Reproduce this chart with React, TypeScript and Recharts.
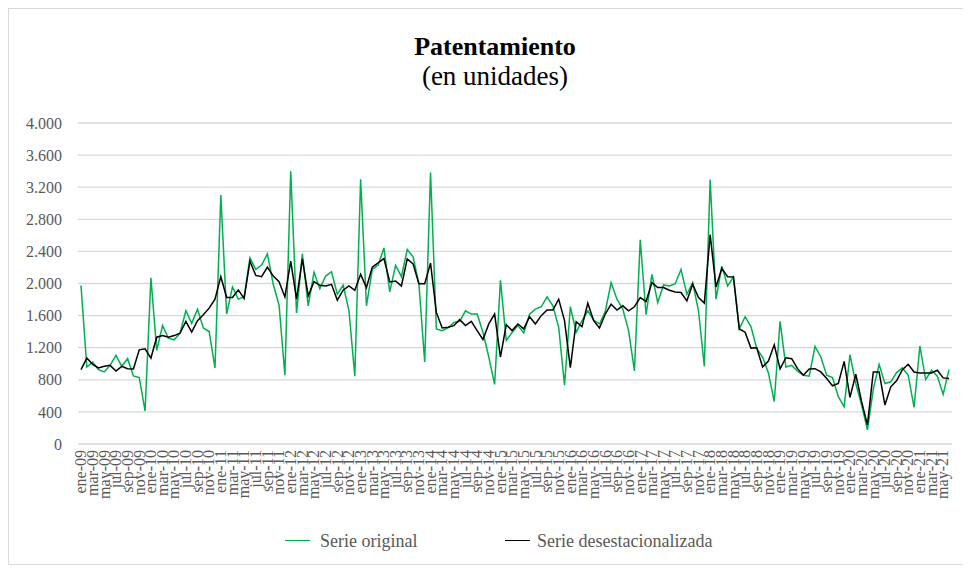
import React from 'react'
import { LineChart, Line, XAxis, YAxis, CartesianGrid } from 'recharts'

const months = ['ene', 'feb', 'mar', 'abr', 'may', 'jun', 'jul', 'ago', 'sep', 'oct', 'nov', 'dic']
const years = ['09', '10', '11', '12', '13', '14', '15', '16', '17', '18', '19', '20', '21']

// Serie original (unidades), ene-09 a jun-21
const serieOriginal = [
  1975, 960, 1022, 927, 898, 980, 1104, 968, 1063, 849, 828, 412,
  2072, 1166, 1475, 1318, 1298, 1380, 1660, 1504, 1681, 1446, 1401, 948,
  3102, 1619, 1957, 1805, 1833, 2320, 2175, 2229, 2369, 1990, 1730, 857,
  3399, 1632, 2369, 1722, 2142, 1936, 2093, 2147, 1866, 1978, 1660, 845,
  3300, 1722, 2175, 2229, 2443, 1895, 2225, 2085, 2423, 2332, 1998, 1022,
  3383, 1434, 1413, 1446, 1516, 1529, 1660, 1619, 1619, 1393, 1084, 742,
  2039, 1290, 1390, 1475, 1384, 1619, 1681, 1710, 1833, 1722, 1454, 733,
  1710, 1393, 1537, 1660, 1545, 1496, 1652, 2011, 1805, 1681, 1413, 911,
  2546, 1611, 2114, 1763, 1982, 1969, 1998, 2175, 1866, 2011, 1660, 968,
  3296, 1805, 2217, 1969, 2081, 1434, 1586, 1463, 1187, 1084, 886, 527,
  1529, 960, 980, 906, 857, 845, 1215, 1084, 857, 828, 589, 466,
  1112, 754, 486, 177, 680, 993, 754, 775, 890, 948, 857, 457,
  1220, 803, 919, 845, 618, 927,
]

// Serie desestacionalizada (unidades)
const serieDesest = [
  927, 1071, 993, 948, 968, 980, 910, 968, 939, 935, 1174, 1187,
  1071, 1331, 1351, 1331, 1351, 1380, 1529, 1393, 1537, 1611, 1693, 1805,
  2085, 1825, 1825, 1920, 1813, 2278, 2101, 2085, 2204, 2093, 2023, 1833,
  2278, 1805, 2307, 1846, 2023, 1978, 1969, 1990, 1792, 1916, 1969, 1916,
  2114, 1950, 2204, 2258, 2311, 2019, 2031, 1969, 2307, 2245, 1998, 1998,
  2254, 1640, 1446, 1454, 1475, 1549, 1475, 1529, 1413, 1302, 1496, 1619,
  1084, 1487, 1413, 1496, 1434, 1586, 1496, 1599, 1669, 1669, 1805, 1537,
  952, 1524, 1463, 1755, 1537, 1446, 1619, 1743, 1669, 1722, 1660, 1710,
  1825, 1776, 2011, 1949, 1949, 1916, 1895, 1887, 1784, 1990, 1825, 1755,
  2608, 1957, 2188, 2085, 2081, 1434, 1393, 1195, 1199, 960, 1034, 1236,
  935, 1075, 1063, 939, 857, 935, 939, 898, 816, 725, 754, 1030,
  581, 869, 527, 239, 898, 898, 486, 713, 787, 927, 993, 898,
  886, 886, 886, 919, 824, 816,
]

const yTicks = [0, 400, 800, 1200, 1600, 2000, 2400, 2800, 3200, 3600, 4000]

const periodos: string[] = []
years.forEach((yy) => months.forEach((m) => periodos.push(`${m}-${yy}`)))

const data = serieOriginal.map((v, i) => ({
  periodo: periodos[i],
  original: v,
  desest: serieDesest[i],
}))

const GREEN = '#00b050'
const FONT = "'Liberation Serif', 'Times New Roman', serif"

const fmt = (v: number) => String(v).replace(/\B(?=(\d{3})+(?!\d))/g, '.')

function XTick({ x, y, payload }: any) {
  return (
    <text
      x={x}
      y={y}
      transform={`rotate(-90, ${x}, ${y})`}
      textAnchor="end"
      dy="0.33em"
      fill="#595959"
      style={{ fontSize: 16, fontFamily: FONT }}
    >
      {payload.value}
    </text>
  )
}

function YTick({ x, y, payload }: any) {
  return (
    <text x={x} y={y} textAnchor="end" dy="0.35em" fill="#595959" style={{ fontSize: 16, fontFamily: FONT }}>
      {fmt(payload.value)}
    </text>
  )
}

export default function App() {
  return (
    <div
      style={{
        position: 'relative',
        width: 955,
        height: 555,
        border: '1px solid #d9d9d9',
        background: '#fff',
        fontFamily: FONT,
      }}
    >
      <div
        style={{
          position: 'absolute',
          top: 23,
          left: 0,
          width: '100%',
          paddingLeft: 17,
          boxSizing: 'border-box',
          textAlign: 'center',
          fontSize: 26,
          lineHeight: '30px',
          fontWeight: 'bold',
          color: '#000',
        }}
      >
        Patentamiento
      </div>
      <div
        style={{
          position: 'absolute',
          top: 52,
          left: 0,
          width: '100%',
          paddingLeft: 17,
          boxSizing: 'border-box',
          textAlign: 'center',
          fontSize: 27,
          lineHeight: '30px',
          color: '#000',
        }}
      >
        (en unidades)
      </div>

      <LineChart
        width={955}
        height={555}
        data={data}
        margin={{ top: 114, right: 12, bottom: 60, left: 0 }}
        style={{ position: 'absolute', top: 0, left: 0 }}
      >
        <CartesianGrid horizontal vertical={false} stroke="#d9d9d9" strokeWidth={1.3} />
        <XAxis
          dataKey="periodo"
          interval={1}
          tick={<XTick />}
          tickLine={false}
          axisLine={false}
          tickSize={0}
          tickMargin={6}
          padding={{ left: 3, right: 3 }}
          height={60}
        />
        <YAxis
          domain={[0, 4000]}
          ticks={yTicks}
          tick={<YTick />}
          tickLine={false}
          axisLine={false}
          tickSize={0}
          tickMargin={16}
          width={69}
        />
        <Line
          type="linear"
          dataKey="original"
          stroke={GREEN}
          strokeWidth={1.5}
          dot={false}
          isAnimationActive={false}
        />
        <Line
          type="linear"
          dataKey="desest"
          stroke="#000000"
          strokeWidth={1.5}
          dot={false}
          isAnimationActive={false}
        />
      </LineChart>

      {/* leyenda */}
      <div style={{ position: 'absolute', left: 276, top: 531, width: 25, borderTop: `1.5px solid ${GREEN}` }} />
      <div style={{ position: 'absolute', left: 311, top: 521, fontSize: 18, lineHeight: '22px', color: '#595959' }}>
        Serie original
      </div>
      <div style={{ position: 'absolute', left: 496, top: 531, width: 25, borderTop: '1.5px solid #000' }} />
      <div style={{ position: 'absolute', left: 528, top: 521, fontSize: 18, lineHeight: '22px', color: '#595959' }}>
        Serie desestacionalizada
      </div>
    </div>
  )
}
